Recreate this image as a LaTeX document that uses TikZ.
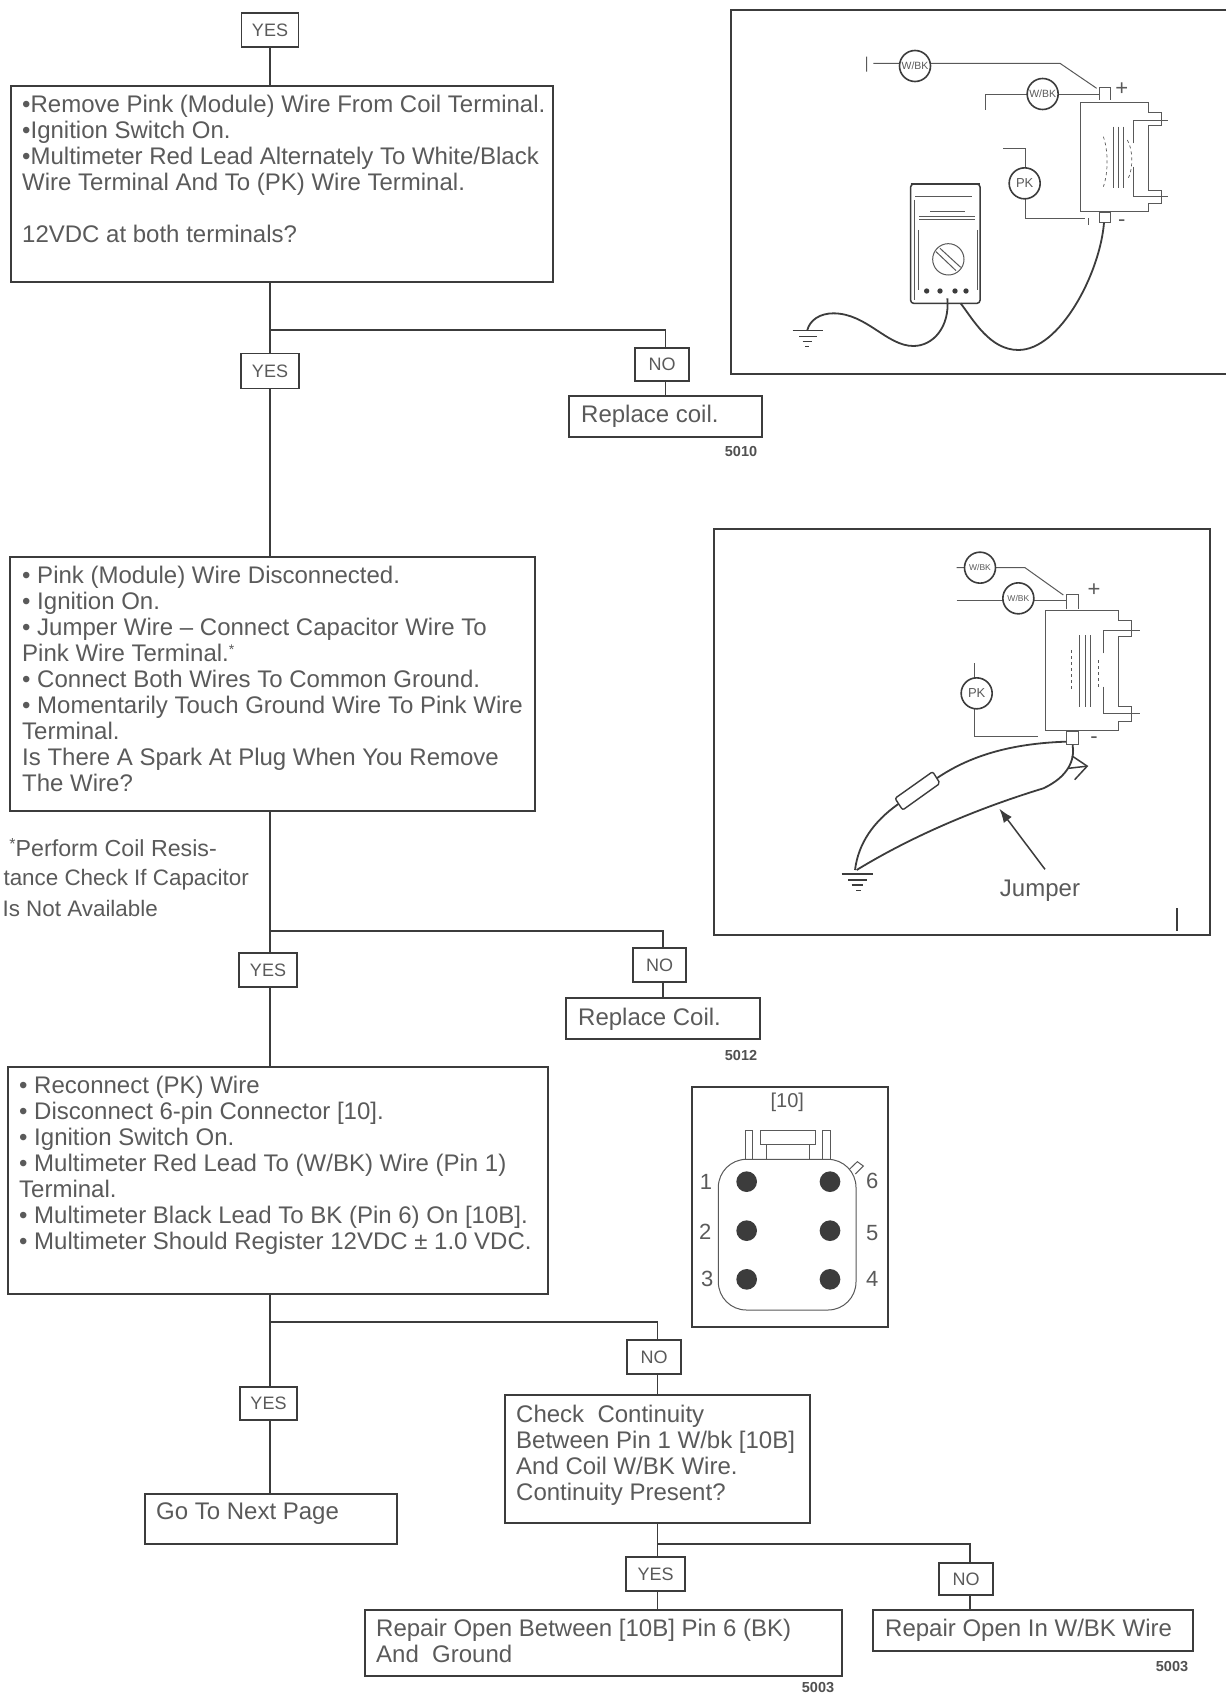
\documentclass[tikz,border=0pt]{standalone}
\usepackage{fontspec}
\setmainfont{Liberation Sans}
\usetikzlibrary{arrows.meta}
\definecolor{ink}{HTML}{3C3C3C}
\definecolor{txt}{HTML}{5A5A5A}
\tikzset{
  ln/.style={draw=ink,line width=1.5pt},
  thin ln/.style={draw=ink!85,line width=1pt},
  wire/.style={draw=ink,line width=1.8pt},
  frame/.style={draw=ink,line width=1.8pt},
  boxst/.style={draw=ink,line width=1.6pt,rectangle,inner sep=0pt},
  tag/.style={boxst,fill=white,text=txt,font=\fontsize{18}{20}\selectfont},
  body/.style={anchor=north west,inner sep=0pt,align=left,text=txt,font=\fontsize{24}{26}\selectfont},
  note/.style={inner sep=0pt,text=txt,font=\fontsize{23.2}{26}\selectfont},
  noted/.style={inner sep=0pt,text=txt,font=\fontsize{22.4}{26}\selectfont},
  num/.style={inner sep=0pt,text=ink!90,font=\bfseries\fontsize{14.5}{15}\selectfont},
  wl/.style={draw=ink,line width=1.6pt,circle,inner sep=0pt,minimum size=31pt,text=txt,fill=white},
  dig/.style={inner sep=0pt,text=txt,font=\fontsize{22}{24}\selectfont},
}
\begin{document}
\begin{tikzpicture}[x=1pt,y=-1pt]
\useasboundingbox (0,0) rectangle (1226,1694);
\fill[white] (0,0) rectangle (1226,1694);
% ---------- flow chart boxes
\node[tag,minimum width=57pt,minimum height=34pt] (yes1) at (270,30) {YES};
\node[boxst,minimum width=542pt,minimum height=196pt] (box1) at (282,184) {};
\node[tag,minimum width=58pt,minimum height=35pt] (yes2) at (270,371) {YES};
\node[tag,minimum width=54pt,minimum height=33pt] (no1) at (662,364.5) {NO};
\node[boxst,minimum width=193pt,minimum height=41pt] (rep1) at (665.5,416.5) {};
\node[boxst,minimum width=525pt,minimum height=254pt] (box2) at (272.5,684) {};
\node[tag,minimum width=58pt,minimum height=34pt] (yes3) at (268,970) {YES};
\node[tag,minimum width=53pt,minimum height=34pt] (no2) at (659.5,965) {NO};
\node[boxst,minimum width=194pt,minimum height=41pt] (rep2) at (663,1018.5) {};
\node[boxst,minimum width=540pt,minimum height=227pt] (box3) at (278,1180.5) {};
\node[tag,minimum width=57pt,minimum height=33pt] (yes4) at (268.5,1403.5) {YES};
\node[tag,minimum width=54pt,minimum height=34pt] (no3) at (654,1357) {NO};
\node[boxst,minimum width=252pt,minimum height=50pt] (next) at (271,1519) {};
\node[boxst,minimum width=305pt,minimum height=128pt] (check) at (657.5,1459) {};
\node[tag,minimum width=59pt,minimum height=34pt] (yes5) at (655.5,1574) {YES};
\node[tag,minimum width=54pt,minimum height=32pt] (no4) at (966,1579) {NO};
\node[boxst,minimum width=477pt,minimum height=66pt] (rep3) at (603.5,1643) {};
\node[boxst,minimum width=320pt,minimum height=41pt] (rep4) at (1033,1630.5) {};
% ---------- flow chart connectors
\coordinate (j1) at (270,330);
\coordinate (j2) at (270,931);
\coordinate (j3) at (270,1322);
\coordinate (j4) at (657.5,1544);
\draw[ln] (yes1.south) -- (yes1.south |- box1.north);
\draw[ln] (yes1.south |- box1.south) -- (yes2.north);
\draw[ln] (j1) -| (rep1.north |- no1.north);
\draw[ln] (rep1.north |- no1.south) -- (rep1.north);
\draw[ln] (yes2.south) -- (yes2.south |- box2.north);
\draw[ln] (yes2.south |- box2.south) -- (yes2.south |- yes3.north);
\draw[ln] (j2) -| (rep2.north |- no2.north);
\draw[ln] (rep2.north |- no2.south) -- (rep2.north);
\draw[ln] (yes2.south |- yes3.south) -- (yes2.south |- box3.north);
\draw[ln] (yes2.south |- box3.south) -- (yes2.south |- yes4.north);
\draw[ln] (j3) -| (check.north |- no3.north);
\draw[ln] (check.north |- no3.south) -- (check.north);
\draw[ln] (yes2.south |- yes4.south) -- (yes2.south |- next.north);
\draw[ln] (check.south) -- (check.south |- yes5.north);
\draw[ln] (j4) -| ([xshift=4pt]no4.north);
\draw[ln] (check.south |- yes5.south) -- (check.south |- rep3.north);
\draw[ln] ([xshift=4pt]no4.south) -- ([xshift=4pt]no4.south |- rep4.north);
% ---------- texts
\node[body] (t1) at (22,95) {•Remove Pink (Module) Wire From Coil Terminal.\\•Ignition Switch On.\\•Multimeter Red Lead Alternately To White/Black\\Wire Terminal And To (PK) Wire Terminal.\\[26pt]12VDC at both terminals?};
\node[body] (t2) at (22,566) {• Pink (Module) Wire Disconnected.\\• Ignition On.\\• Jumper Wire – Connect Capacitor Wire To\\Pink Wire Terminal.\raisebox{7pt}{\fontsize{14}{14}\selectfont *}\\• Connect Both Wires To Common Ground.\\• Momentarily Touch Ground Wire To Pink Wire\\Terminal.\\Is There A Spark At Plug When You Remove\\The Wire?};
\node[body] (t3) at (19,1076) {• Reconnect (PK) Wire\\• Disconnect 6-pin Connector [10].\\• Ignition Switch On.\\• Multimeter Red Lead To (W/BK) Wire (Pin 1)\\Terminal.\\• Multimeter Black Lead To BK (Pin 6) On [10B].\\• Multimeter Should Register 12VDC ± 1.0 VDC.};
\node[note,anchor=east] (f1) at (217,848) {\raisebox{7pt}{\fontsize{16}{16}\selectfont *}Perform Coil Resis-};
\node[noted,anchor=east] (f2) at (249,880) {tance Check If Capacitor};
\node[noted,anchor=east] (f3) at (158,908) {Is Not Available};
\node[body,anchor=west] (r1) at (581,416) {Replace coil.};
\node[body,anchor=west] (r2) at (578,1019) {Replace Coil.};
\node[body,anchor=west] (n1) at (156,1514) {Go To Next Page};
\node[body] (c1) at (516,1405) {Check\ \ Continuity\\Between Pin 1 W/bk [10B]\\And Coil W/BK Wire.\\Continuity Present?};
\node[body] (r3) at (376,1619) {Repair Open Between [10B] Pin 6 (BK)\\And\ \ Ground};
\node[body,anchor=west] (r4) at (885,1630) {Repair Open In W/BK Wire};
\node[num] (n5010) at (741,452) {5010};
\node[num] (n5012) at (741,1055) {5012};
\node[num] (n5003a) at (818,1687) {5003};
\node[num] (n5003b) at (1172,1666) {5003};
% ---------- illustration 1
\draw[frame] (1226,10) -- (731,10) -- (731,374) -- (1226,374);
\begin{scope}[shift={(720,0)},x=0.33333pt,y=-0.33333pt]
\draw[thin ln] (440,170) -- (440,215) (460,190) -- (540,190) (630,190) -- (1020,190) -- (1130,265);
\draw[thin ln] (797,330) -- (797,285) -- (925,285) (1012,285) -- (1140,285);
\node[wl,font=\fontsize{10.5}{11}\selectfont] (a1) at (585,198) {W/BK};
\node[wl,font=\fontsize{10.5}{11}\selectfont] (a2) at (968,282) {W/BK};
\draw[thin ln] (850,445) -- (917,445) -- (917,505) (917,595) -- (917,655) -- (1095,655) (1105,655) -- (1105,675);
\node[wl,font=\fontsize{13}{14}\selectfont] (a3) at (914,550) {PK};
\draw[thin ln] (1138,300) -- (1138,262) -- (1172,262) -- (1172,300);
\draw[thin ln] (1080,308) -- (1285,308) -- (1285,338) -- (1325,338) -- (1325,378) -- (1285,378) -- (1285,572) -- (1325,572) -- (1325,612) -- (1285,612) -- (1285,635) -- (1080,635) -- cycle;
\draw[thin ln] (1240,430) -- (1240,362) -- (1345,362) (1240,500) -- (1240,590) -- (1345,590);
\draw[thin ln] (1180,380) -- (1180,565) (1195,380) -- (1195,565) (1210,380) -- (1210,565);
\draw[thin ln,dashed,line width=.7pt] (1150,410) .. controls (1165,450) and (1165,520) .. (1150,560);
\draw[thin ln,dashed,line width=.7pt] (1222,420) .. controls (1240,450) and (1240,510) .. (1222,540);
\draw[thin ln] (1138,637) rectangle (1172,668);
\node[dig] (pa) at (1205,267) {+};
\node[dig] (ma) at (1205,670) {-};
\draw[frame,line width=1.5pt,rounded corners=3pt] (572,552) rectangle (780,910);
\draw[ink,line width=2.2pt] (572,552) -- (780,552);
\draw[thin ln] (585,590) -- (755,590) (630,635) -- (735,635) (598,650) -- (765,650) (598,660) -- (765,660) (596,690) -- (596,870) (773,690) -- (773,870) (582,600) -- (582,900);
\draw[thin ln] (685,778) circle (47);
\draw[thin ln] (648,755) -- (708,812) (660,745) -- (722,802);
\foreach \xx in {620,660,705,738} \fill[ink] (\xx,873) circle (8);
\draw[wire] (1152,668) .. controls (1140,820) and (1020,1050) .. (895,1050) .. controls (810,1050) and (760,960) .. (722,910);
\draw[wire] (682,895) .. controls (690,980) and (640,1038) .. (580,1038) .. controls (500,1038) and (440,940) .. (340,940) .. controls (300,940) and (270,960) .. (262,990);
\draw[ln] (218,992) -- (308,992) (238,1010) -- (290,1010) (248,1025) -- (275,1025) (255,1040) -- (268,1040);
\end{scope}
% ---------- illustration 2
\draw[frame] (714,529) rectangle (1210,935);
\begin{scope}[shift={(710,520)},x=0.33333pt,y=-0.33333pt]
\draw[thin ln] (740,143) -- (765,143) (858,143) -- (945,143) -- (1060,225);
\draw[thin ln] (740,240) -- (880,240) (972,240) -- (1068,240);
\node[wl,font=\fontsize{8.5}{9}\selectfont] (b1) at (810,143) {W/BK};
\node[wl,font=\fontsize{8.5}{9}\selectfont] (b2) at (925,235) {W/BK};
\draw[thin ln] (792,430) -- (792,475) (792,568) -- (792,650) -- (985,650);
\node[wl,font=\fontsize{13}{14}\selectfont] (b3) at (800,520) {PK};
\draw[thin ln] (1068,268) -- (1068,222) -- (1105,222) -- (1105,268);
\draw[thin ln] (1005,270) -- (1225,270) -- (1225,300) -- (1265,300) -- (1265,350) -- (1225,350) -- (1225,560) -- (1265,560) -- (1265,605) -- (1225,605) -- (1225,632) -- (1005,632) -- cycle;
\draw[thin ln] (1180,400) -- (1180,332) -- (1290,332) (1180,500) -- (1180,580) -- (1290,580);
\draw[thin ln] (1108,345) -- (1108,560) (1125,345) -- (1125,560) (1142,345) -- (1142,560);
\draw[thin ln,dashed,line width=.7pt] (1085,390) -- (1085,510) (1165,420) -- (1165,510);
\draw[thin ln] (1070,634) rectangle (1105,672);
\node[dig] (pb) at (1152,210) {+};
\node[dig] (mb) at (1152,660) {-};
\draw[wire] (1068,665) .. controls (920,670) and (790,700) .. (680,775);
\draw[wire,line width=1.4pt,rounded corners=2pt] (555,835) -- (668,755) -- (690,790) -- (578,870) -- cycle;
\draw[wire] (565,852) .. controls (490,905) and (445,970) .. (435,1050);
\draw[wire] (1088,675) .. controls (1095,720) and (1075,770) .. (1000,805) .. controls (820,860) and (620,940) .. (440,1050);
\draw[ln,-{Straight Barb[length=14,width=24]}] (1075,745) -- (1135,738);
\draw[ln] (395,1062) -- (490,1062) (415,1080) -- (470,1080) (425,1095) -- (460,1095) (438,1112) -- (452,1112);
\node[inner sep=0pt,text=txt,font=\fontsize{24}{26}\selectfont] (jmp) at (990,1112) {Jumper};
\coordinate (lead) at (1005,1048);
\coordinate (leadtip) at (868,866);
\draw[ln,-{Latex[length=14,width=10]}] (lead) -- (leadtip);
\draw[ln,line width=1.8pt] (1400,1165) -- (1400,1232);
\end{scope}
% ---------- connector
\draw[frame] (692,1087) rectangle (888,1327);
\begin{scope}[shift={(680,1080)},x=0.33333pt,y=-0.33333pt]
\node[inner sep=0pt,text=txt,font=\fontsize{20}{22}\selectfont] (c10) at (322,68) {[10]};
\draw[thin ln] (195,238) -- (195,150) -- (218,150) -- (218,238);
\draw[thin ln] (428,238) -- (428,150) -- (450,150) -- (450,238);
\draw[thin ln] (240,152) rectangle (405,192);
\draw[thin ln] (258,192) -- (258,238) (388,192) -- (388,238);
\draw[thin ln,rounded corners=28pt] (115,238) rectangle (528,690);
\draw[thin ln] (508,268) -- (532,245) -- (550,258) -- (526,282);
\foreach \xx/\yy in {200/305,200/452,200/598,450/305,450/452,450/598} \fill[ink] (\xx,\yy) circle (31);
\node[dig] (p1) at (78,305) {1};
\node[dig] (p2) at (76,455) {2};
\node[dig] (p3) at (82,597) {3};
\node[dig] (p6) at (577,303) {6};
\node[dig] (p5) at (577,458) {5};
\node[dig] (p4) at (577,597) {4};
\end{scope}
\end{tikzpicture}
\end{document}
